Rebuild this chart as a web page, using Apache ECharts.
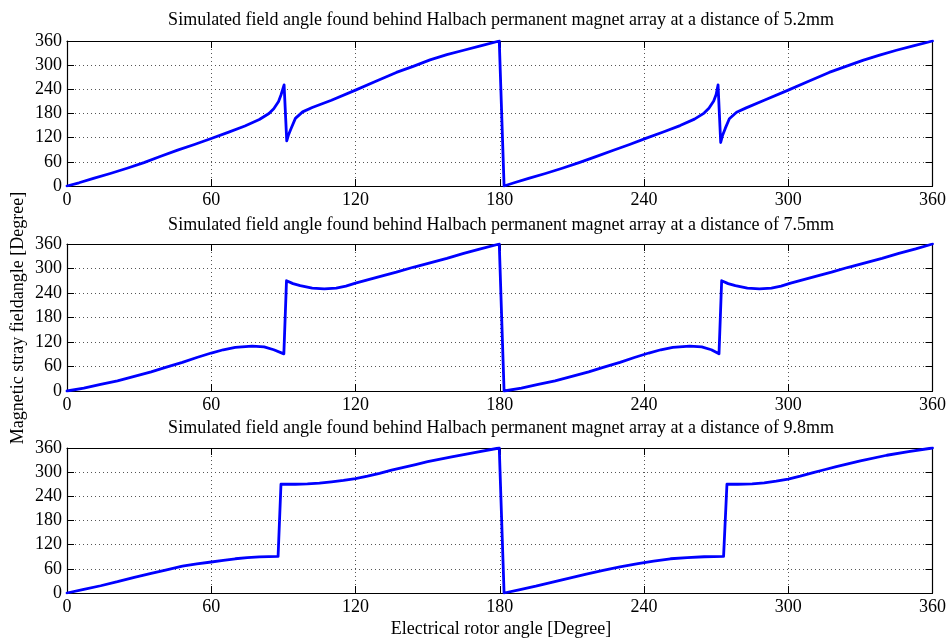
<!DOCTYPE html>
<html>
<head>
<meta charset="utf-8">
<script src="https://cdn.jsdelivr.net/npm/echarts@6/dist/echarts.min.js"></script>
<style>
html,body{margin:0;padding:0;background:#fff;}
#chart{width:949px;height:640px;}
</style>
</head>
<body>
<div id="chart"></div>
<script>
const xTicks = [0, 60, 120, 180, 240, 300, 360];
const yTicks = [0, 60, 120, 180, 240, 300, 360];
const titles = [
  'Simulated field angle found behind Halbach permanent magnet array at a distance of 5.2mm',
  'Simulated field angle found behind Halbach permanent magnet array at a distance of 7.5mm',
  'Simulated field angle found behind Halbach permanent magnet array at a distance of 9.8mm'
];
const xAxisName = 'Electrical rotor angle [Degree]';
const yAxisName = 'Magnetic stray fieldangle [Degree]';

// 5.2 mm
const d52X = [0, 5, 11, 18, 25, 32, 39, 46, 53, 60, 67, 74, 80, 84, 86, 88, 89, 90.3, 91.4, 92.2, 93.3, 95, 98, 102, 110, 120, 128, 137, 144, 151, 158, 165, 172, 179.8,
  181.8, 186, 192, 199, 206, 213, 220, 227, 234, 241, 248, 255, 261, 265, 267, 269, 270, 270.8, 271.9, 272.7, 273.8, 275.5, 278.5, 282.5, 290, 300, 308, 317, 324, 331, 338, 345, 352, 360];
const d52Y = [0, 8, 19, 31, 44, 58, 74, 89, 103, 118, 133, 149, 165, 180, 192, 210, 226, 251, 112, 128, 144, 168, 184, 195, 213, 238, 259, 282, 297, 313, 326, 337, 348, 360,
  0, 8, 19, 31, 44, 58, 73, 88, 103, 119, 134, 150, 166, 181, 193, 211, 227, 251, 108, 126, 143, 167, 183, 194, 213, 238, 259, 282, 297, 312, 325, 337, 348, 360];

// 7.5 mm
const d75X = [0, 7, 14, 21, 28, 35, 41, 48, 54, 60, 65, 70, 77, 82, 86, 90.2, 91.3, 94, 97, 102, 107, 112, 116, 120, 130, 137, 144, 151, 158, 165, 172, 179.8,
  181.8, 189, 196, 203, 210, 217, 223, 230, 236, 242, 247, 252, 259, 264, 268, 271.2, 272.3, 275, 278, 283, 288, 293, 297, 301, 311, 318, 325, 332, 339, 346, 353, 360];
const d75Y = [0, 7, 16, 25, 36, 47, 58, 70, 82, 93, 101, 107, 110, 108, 101, 91, 270, 263, 258, 252, 250, 252, 257, 264, 280, 291, 303, 314, 325, 337, 348, 360,
  0, 7, 16, 25, 36, 47, 58, 70, 82, 93, 101, 107, 110, 108, 101, 91, 270, 263, 258, 252, 250, 252, 257, 264, 280, 291, 303, 314, 325, 337, 348, 360];

// 9.8 mm
const d98X = [0, 7, 14, 21, 28, 35, 41, 48, 54, 60, 65, 70, 75, 80, 87.8, 89, 95, 100, 105, 110, 115, 120, 125, 130, 135, 140, 145, 150, 160, 170, 179.8,
  181.8, 188, 195, 202, 209, 216, 223, 230, 237.5, 244, 251, 258, 265, 273.1, 274.5, 279, 285, 290, 295, 300, 305, 310, 315, 320, 330, 341, 350, 360];
const d98Y = [0, 9, 18, 28, 39, 49, 57, 67, 72.5, 77, 81, 85, 88, 89.5, 91, 270, 270, 271, 273, 276, 279.5, 284, 290, 297, 305, 312, 319, 326, 338, 349, 360,
  0, 8, 17, 27, 37, 47, 56, 65, 73, 79, 85, 88, 90, 91, 270, 270, 271, 273.5, 277.5, 283, 290, 298, 306, 314, 328, 342, 351, 360];

const FONT = '"Liberation Serif", "Times New Roman", serif';
const grids = [
  {left: 67, right: 14, top: 41, height: 145},
  {left: 67, right: 14, top: 244, height: 147},
  {left: 67, right: 14, top: 448, height: 145}
];
const xMin = xTicks[0], xMax = xTicks[xTicks.length - 1], xInt = xTicks[1] - xTicks[0];
const yMin = yTicks[0], yMax = yTicks[yTicks.length - 1], yInt = yTicks[1] - yTicks[0];

const xAxes = [], yAxes = [], series = [];
const sets = [[d52X, d52Y], [d75X, d75Y], [d98X, d98Y]];
grids.forEach((g, i) => {
  xAxes.push({
    type: 'value', gridIndex: i, min: xMin, max: xMax, interval: xInt, position: 'bottom',
    axisLine: {show: true, onZero: false, lineStyle: {color: '#000', width: 1.2}},
    axisTick: {show: true, inside: true, length: 7, lineStyle: {color: '#000'}},
    axisLabel: {show: true, margin: 5, color: '#000', fontFamily: FONT, fontSize: 18},
    splitLine: {show: true, lineStyle: {color: '#555', width: 1, type: [1, 3]}}
  });
  xAxes.push({
    type: 'value', gridIndex: i, min: xMin, max: xMax, interval: xInt, position: 'top',
    axisLine: {show: true, onZero: false, lineStyle: {color: '#000', width: 1.2}},
    axisTick: {show: true, inside: true, length: 7, lineStyle: {color: '#000'}},
    axisLabel: {show: false}, splitLine: {show: false}
  });
  yAxes.push({
    type: 'value', gridIndex: i, min: yMin, max: yMax, interval: yInt, position: 'left',
    axisLine: {show: true, onZero: false, lineStyle: {color: '#000', width: 1.2}},
    axisTick: {show: true, inside: true, length: 7, lineStyle: {color: '#000'}},
    axisLabel: {show: true, margin: 5, color: '#000', fontFamily: FONT, fontSize: 18},
    splitLine: {show: true, lineStyle: {color: '#555', width: 1, type: [1, 3]}}
  });
  yAxes.push({
    type: 'value', gridIndex: i, min: yMin, max: yMax, interval: yInt, position: 'right',
    axisLine: {show: true, onZero: false, lineStyle: {color: '#000', width: 1.2}},
    axisTick: {show: true, inside: true, length: 7, lineStyle: {color: '#000'}},
    axisLabel: {show: false}, splitLine: {show: false}
  });
  const [xs, ys] = sets[i];
  series.push({
    type: 'line', xAxisIndex: i * 2, yAxisIndex: i * 2,
    data: xs.map((x, k) => [x, ys[k]]),
    showSymbol: false, symbol: 'none', smooth: false, clip: true,
    lineStyle: {color: '#0000ff', width: 2.8, join: 'round', cap: 'round'}, z: 5
  });
});

const titleY = [20, 225, 428];
const graphics = titles.map((t, i) => ({
  type: 'text', x: 501, y: titleY[i],
  style: {text: t, fill: '#000', font: '18px ' + FONT, textAlign: 'center', textVerticalAlign: 'middle'}
}));
graphics.push({
  type: 'text', x: 501, y: 629,
  style: {text: xAxisName, fill: '#000', font: '18px ' + FONT, textAlign: 'center', textVerticalAlign: 'middle'}
});
graphics.push({
  type: 'text', x: 18, y: 318, rotation: Math.PI / 2,
  style: {text: yAxisName, fill: '#000', font: '18px ' + FONT, textAlign: 'center', textVerticalAlign: 'middle'}
});

const chart = echarts.init(document.getElementById('chart'), null, {renderer: 'canvas'});
chart.setOption({
  animation: false,
  backgroundColor: '#fff',
  grid: grids,
  xAxis: xAxes,
  yAxis: yAxes,
  series: series,
  graphic: graphics
});
</script>
</body>
</html>
